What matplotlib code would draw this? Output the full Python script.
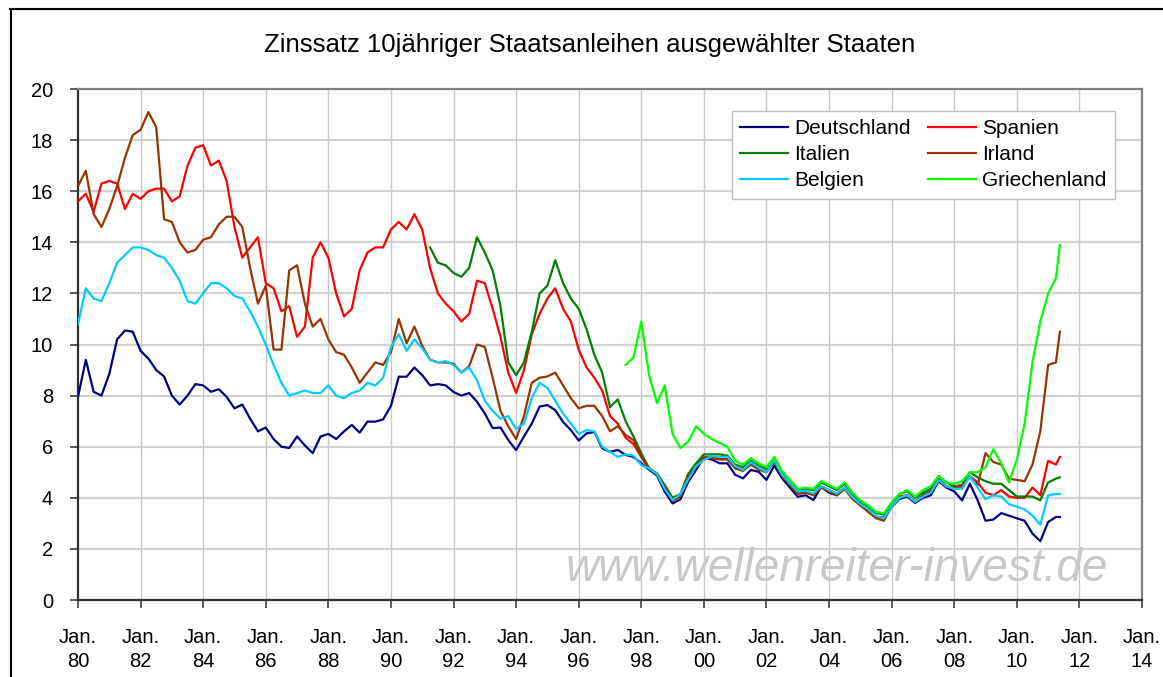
import numpy as np
import matplotlib
matplotlib.use("Agg")
import matplotlib.pyplot as plt
from matplotlib.lines import Line2D

plt.rcParams["font.family"] = ["Liberation Sans", "DejaVu Sans"]

# quarterly observations (decimal years), last point mid-May 2011
DATES = np.append(np.arange(1980.0, 2011.26, 0.25), 2011.375)

deutschland = [
    7.95, 9.4, 8.15, 8.0,   8.85, 10.2, 10.55, 10.5,  9.75, 9.45, 9.0, 8.75,
    8.0, 7.65, 8.0, 8.45,   8.4, 8.15, 8.25, 7.95,    7.5, 7.65, 7.1, 6.6,
    6.75, 6.3, 6.0, 5.95,   6.4, 6.05, 5.75, 6.4,     6.5, 6.3, 6.6, 6.85,
    6.55, 6.98, 6.98, 7.07, 7.6, 8.74, 8.74, 9.1,     8.8, 8.4, 8.45, 8.4,
    8.14, 8.0, 8.1, 7.76,   7.3, 6.73, 6.75, 6.26,    5.87, 6.4, 6.9, 7.57,
    7.63, 7.43, 6.97, 6.65, 6.24, 6.52, 6.58, 5.94,   5.8, 5.87, 5.68, 5.6,
    5.35, 5.1, 4.87, 4.24,  3.78, 3.94, 4.63, 5.09,   5.58, 5.5, 5.35, 5.35,
    4.9, 4.76, 5.09, 5.02,  4.7, 5.26, 4.76, 4.4,     4.04, 4.1, 3.91, 4.43,
    4.2, 4.1, 4.37, 4.04,   3.72, 3.52, 3.24, 3.24,   3.65, 3.95, 4.05, 3.8,
    4.0, 4.1, 4.65, 4.4,    4.25, 3.9, 4.55, 3.9,     3.1, 3.15, 3.4, 3.3,
    3.2, 3.1, 2.6, 2.3,     3.05, 3.25, 3.25,
]

spanien = [
    15.6, 15.9, 15.2, 16.3, 16.4, 16.3, 15.3, 15.9,   15.7, 16.0, 16.1, 16.1,
    15.6, 15.8, 17.0, 17.7, 17.8, 17.0, 17.2, 16.4,   14.6, 13.4, 13.8, 14.2,
    12.4, 12.2, 11.3, 11.5, 10.3, 10.7, 13.4, 14.0,   13.4, 12.0, 11.1, 11.4,
    12.9, 13.6, 13.8, 13.8, 14.5, 14.8, 14.5, 15.1,   14.5, 13.0, 12.0, 11.6,
    11.3, 10.9, 11.2, 12.5, 12.4, 11.4, 10.3, 8.9,    8.1, 9.0, 10.4, 11.2,
    11.8, 12.2, 11.4, 10.9, 9.8, 9.1, 8.7, 8.2,       7.2, 6.9, 6.35, 6.1,
    5.6, 5.15, 4.93, 4.4,   3.87, 4.1, 4.9, 5.28,     5.6, 5.6, 5.55, 5.55,
    5.2, 5.1, 5.35, 5.15,   5.05, 5.45, 4.9, 4.55,    4.2, 4.25, 4.15, 4.45,
    4.3, 4.15, 4.4, 4.0,    3.75, 3.5, 3.25, 3.15,    3.7, 4.05, 4.1, 3.85,
    4.1, 4.25, 4.7, 4.45,   4.35, 4.45, 4.85, 4.6,    4.2, 4.1, 4.3, 4.05,
    4.0, 4.0, 4.4, 4.1,     5.45, 5.3, 5.6,
]

# Italien from April 1991
italien = [
    13.8, 13.2, 13.1,
    12.8, 12.65, 13.0, 14.2, 13.6, 12.9, 11.5, 9.3,   8.8, 9.3, 10.5, 12.0,
    12.3, 13.3, 12.4, 11.8, 11.4, 10.6, 9.6, 8.9,     7.55, 7.85, 7.0, 6.4,
    5.74, 5.15, 4.96, 4.5,  4.0, 4.15, 4.93, 5.35,    5.7, 5.7, 5.7, 5.65,
    5.3, 5.2, 5.45, 5.25,   5.15, 5.55, 5.0, 4.65,    4.3, 4.35, 4.3, 4.6,
    4.45, 4.3, 4.55, 4.15,  3.85, 3.65, 3.4, 3.35,    3.8, 4.15, 4.25, 4.0,
    4.2, 4.35, 4.85, 4.6,   4.45, 4.5, 5.0, 4.8,      4.65, 4.55, 4.55, 4.3,
    4.05, 4.05, 4.05, 3.9,  4.6, 4.75, 4.8,
]

irland = [
    16.2, 16.8, 15.1, 14.6, 15.3, 16.2, 17.3, 18.2,   18.4, 19.1, 18.5, 14.9,
    14.8, 14.0, 13.6, 13.7, 14.1, 14.2, 14.7, 15.0,   15.0, 14.6, 13.0, 11.6,
    12.3, 9.8, 9.8, 12.9,   13.1, 11.6, 10.7, 11.0,   10.2, 9.7, 9.6, 9.1,
    8.5, 8.9, 9.3, 9.2,     9.7, 11.0, 10.05, 10.7,   9.95, 9.4, 9.3, 9.3,
    9.25, 8.9, 9.15, 10.0,  9.9, 8.7, 7.4, 6.8,       6.3, 7.2, 8.5, 8.7,
    8.75, 8.9, 8.4, 7.9,    7.5, 7.6, 7.6, 7.2,       6.6, 6.8, 6.46, 6.26,
    5.6, 5.15, 4.9, 4.43,   3.9, 4.05, 4.85, 5.22,    5.6, 5.55, 5.5, 5.5,
    5.15, 5.05, 5.3, 5.1,   5.0, 5.4, 4.85, 4.5,      4.15, 4.2, 4.1, 4.4,
    4.25, 4.1, 4.35, 3.95,  3.7, 3.45, 3.2, 3.1,      3.65, 4.0, 4.1, 3.85,
    4.1, 4.25, 4.75, 4.45,  4.4, 4.5, 4.8, 4.5,       5.75, 5.4, 5.3, 4.75,
    4.7, 4.65, 5.3, 6.6,    9.2, 9.3, 10.5,
]

belgien = [
    10.8, 12.2, 11.8, 11.7, 12.4, 13.2, 13.5, 13.8,   13.8, 13.7, 13.5, 13.4,
    13.0, 12.5, 11.7, 11.6, 12.0, 12.4, 12.4, 12.2,   11.9, 11.8, 11.3, 10.7,
    10.0, 9.2, 8.5, 8.0,    8.1, 8.2, 8.1, 8.1,       8.4, 8.0, 7.9, 8.1,
    8.2, 8.5, 8.4, 8.7,     9.9, 10.4, 9.75, 10.2,    9.85, 9.4, 9.3, 9.35,
    9.2, 8.9, 9.1, 8.6,     7.8, 7.4, 7.1, 7.2,       6.7, 6.9, 7.9, 8.5,
    8.3, 7.8, 7.3, 6.9,     6.5, 6.65, 6.6, 6.0,      5.8, 5.6, 5.7, 5.65,
    5.28, 5.15, 4.93, 4.34, 3.91, 4.15, 4.72, 5.24,   5.48, 5.64, 5.6, 5.6,
    5.24, 5.09, 5.39, 5.18, 5.0, 5.48, 4.9, 4.57,     4.24, 4.28, 4.17, 4.46,
    4.3, 4.17, 4.4, 4.02,   3.76, 3.55, 3.29, 3.2,    3.65, 4.0, 4.1, 3.85,
    4.05, 4.2, 4.7, 4.45,   4.35, 4.35, 4.85, 4.4,    3.95, 4.1, 4.05, 3.75,
    3.65, 3.55, 3.3, 2.95,  4.1, 4.15, 4.15,
]

# Griechenland from July 1997
griechenland = [
    9.2, 9.5,
    10.9, 8.8, 7.7, 8.4,    6.5, 5.95, 6.2, 6.8,      6.5, 6.3, 6.15, 6.0,
    5.45, 5.3, 5.55, 5.35,  5.2, 5.6, 5.05, 4.7,      4.35, 4.4, 4.35, 4.65,
    4.5, 4.35, 4.6, 4.2,    3.9, 3.7, 3.45, 3.4,      3.8, 4.15, 4.3, 4.05,
    4.3, 4.45, 4.85, 4.6,   4.55, 4.65, 5.0, 5.0,     5.2, 5.9, 5.35, 4.6,
    5.5, 6.9, 9.3, 10.9,    12.0, 12.6, 13.9,
]

SERIES = [
    ("Deutschland", deutschland, "#000080"),
    ("Spanien", spanien, "#ff0000"),
    ("Italien", italien, "#008000"),
    ("Irland", irland, "#993300"),
    ("Belgien", belgien, "#00ccff"),
    ("Griechenland", griechenland, "#00ff00"),
]
LEGEND_ORDER = ["Deutschland", "Italien", "Belgien", "Spanien", "Irland", "Griechenland"]

X_TICKS = list(range(1980, 2015, 2))
X_LABELS = [f"Jan.\n{y % 100:02d}" for y in X_TICKS]
Y_TICKS = list(range(0, 21, 2))

TITLE = "Zinssatz 10jähriger Staatsanleihen ausgewählter Staaten"
WATERMARK = "www.wellenreiter-invest.de"

W, H = 1163, 677
fig = plt.figure(figsize=(W / 100, H / 100), dpi=100)
fig.patch.set_facecolor("white")
ax = fig.add_axes([78 / W, 1 - 600 / H, (1142 - 78) / W, (600 - 89) / H])

# outer chart frame (only left and top edges fall inside the image)
fig.add_artist(Line2D([10.5 / W, 10.5 / W], [0, 1 - 8.5 / H], color="black",
                      lw=1.5, transform=fig.transFigure))
fig.add_artist(Line2D([10 / W, 1], [1 - 8.5 / H, 1 - 8.5 / H], color="black",
                      lw=1.5, transform=fig.transFigure))

for y in Y_TICKS[1:-1]:
    ax.axhline(y, color="#d2d2d2", lw=1.6, zorder=1)
for x in X_TICKS[1:-1]:
    ax.axvline(x, color="#c8c8c8", lw=1.0, zorder=1)

fig.text(566 / W, 1 - 581 / H, WATERMARK, fontsize=33, style="italic",
         color="#c8c8c8", va="baseline", ha="left", zorder=1.5)

handles = {}
for name, vals, color in SERIES:
    xs = DATES[-len(vals):]
    (ln,) = ax.plot(xs, vals, color=color, lw=1.6, label=name, zorder=3)
    handles[name] = ln

ax.set_xlim(1980, 2014)
ax.set_ylim(0, 20)
ax.set_xticks(X_TICKS)
ax.set_xticklabels(X_LABELS, fontsize=14.5, linespacing=1.35)
ax.set_yticks(Y_TICKS)
ax.set_yticklabels([str(v) for v in Y_TICKS], fontsize=14.5)
ax.tick_params(axis="x", direction="out", length=6, width=1.2, color="#404040", pad=14)
ax.tick_params(axis="y", direction="out", length=6, width=1.2, color="#404040", pad=12)

for side in ("left", "bottom"):
    ax.spines[side].set_color("#303030")
    ax.spines[side].set_linewidth(1.6)
for side in ("top", "right"):
    ax.spines[side].set_color("#808080")
    ax.spines[side].set_linewidth(1.6)

leg = ax.legend([handles[n] for n in LEGEND_ORDER], LEGEND_ORDER, ncol=2,
                loc="upper left", bbox_to_anchor=(732 / W, 1 - 111 / H),
                bbox_transform=fig.transFigure, fontsize=15, frameon=True,
                fancybox=False, framealpha=1, edgecolor="#c0c0c0",
                handlelength=2.3, handletextpad=0.3, columnspacing=0.8,
                labelspacing=0.34, borderpad=0.4, borderaxespad=0)
leg.get_frame().set_linewidth(1.0)
leg.set_zorder(5)

fig.text(590 / W, 1 - 52 / H, TITLE, fontsize=18.5, ha="center", va="baseline")

fig.savefig("out.png", dpi=100, facecolor="white")
